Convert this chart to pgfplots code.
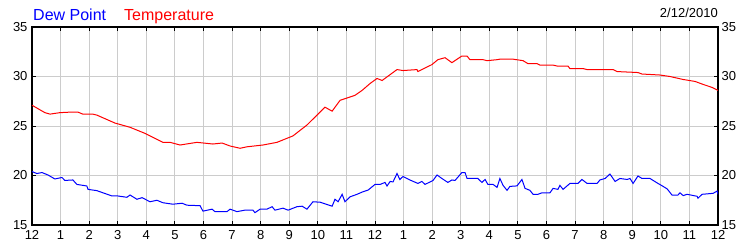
\documentclass[border=0pt]{standalone}
\usepackage{pgfplots}
\pgfplotsset{compat=1.18}
\usepackage{fontspec}
\setmainfont{Liberation Sans}
\definecolor{gridgray}{RGB}{204,204,204}
\definecolor{dpblue}{RGB}{0,0,255}
\definecolor{tred}{RGB}{255,0,0}
\pgfplotstableread{
h T
0 27.1
0.45 26.35
0.63 26.2
0.98 26.35
1.33 26.4
1.61 26.4
1.78 26.2
2.13 26.2
2.27 26.1
2.90 25.3
3.43 24.87
3.95 24.26
4.58 23.35
4.83 23.35
5.18 23.08
5.77 23.35
6.33 23.18
6.65 23.28
6.93 22.98
7.28 22.75
7.52 22.9
8.08 23.08
8.57 23.35
9.13 24.0
9.62 25.1
9.97 26.1
10.25 26.9
10.50 26.5
10.78 27.6
11.30 28.1
11.55 28.6
11.83 29.3
12.07 29.8
12.25 29.6
12.77 30.7
12.98 30.6
13.47 30.7
13.50 30.5
13.99 31.2
14.20 31.7
14.45 31.9
14.69 31.4
15.04 32.07
15.22 32.07
15.32 31.7
15.78 31.7
15.92 31.6
16.27 31.7
16.37 31.75
16.83 31.75
17.18 31.6
17.35 31.3
17.67 31.3
17.77 31.15
18.23 31.15
18.37 31.06
18.75 31.06
18.82 30.8
19.28 30.8
19.42 30.7
20.33 30.7
20.47 30.5
21.20 30.4
21.34 30.25
21.97 30.15
22.32 30.0
22.78 29.7
23.20 29.5
23.48 29.2
23.79 28.9
24.0 28.6
}\temptable
\pgfplotstableread{
h D
0 20.4
0.17 20.2
0.35 20.3
0.56 20.05
0.80 19.65
1.05 19.8
1.15 19.5
1.43 19.55
1.57 19.1
1.92 18.94
1.96 18.6
2.27 18.47
2.80 17.93
3.01 17.93
3.32 17.8
3.43 18.03
3.67 17.6
3.85 17.76
4.13 17.35
4.37 17.5
4.58 17.25
4.93 17.1
5.25 17.2
5.42 17.0
5.88 16.95
5.98 16.4
6.30 16.6
6.40 16.35
6.82 16.35
6.93 16.6
7.17 16.35
7.45 16.5
7.73 16.5
7.80 16.25
7.98 16.6
8.22 16.6
8.40 16.85
8.50 16.5
8.78 16.7
8.96 16.5
9.27 16.85
9.45 16.9
9.62 16.6
9.83 17.35
10.08 17.3
10.50 16.9
10.60 17.6
10.71 17.35
10.85 18.1
10.95 17.35
11.13 17.85
11.37 18.1
11.58 18.36
11.76 18.53
12.00 19.1
12.18 19.1
12.35 19.3
12.42 18.94
12.53 19.4
12.63 19.35
12.77 20.2
12.87 19.6
12.98 19.9
13.22 19.55
13.50 19.2
13.64 19.4
13.75 19.1
14.03 19.5
14.17 20.05
14.34 19.7
14.55 19.3
14.69 19.55
14.80 19.5
15.04 20.3
15.15 20.3
15.22 19.7
15.60 19.7
15.74 19.3
15.85 19.6
15.95 19.1
16.13 19.1
16.27 18.8
16.37 19.7
16.48 19.0
16.62 18.5
16.72 18.9
16.97 18.95
17.14 19.6
17.25 18.7
17.42 18.5
17.53 18.1
17.70 18.1
17.84 18.25
18.12 18.25
18.23 18.7
18.40 18.6
18.47 19.0
18.58 18.6
18.82 19.2
19.10 19.2
19.24 19.6
19.42 19.2
19.77 19.2
19.87 19.55
20.05 19.7
20.22 20.15
20.40 19.4
20.57 19.7
20.82 19.6
20.92 19.7
21.03 19.2
21.20 19.95
21.34 19.7
21.62 19.7
21.90 19.2
22.08 18.9
22.22 18.65
22.39 18.03
22.60 18.03
22.67 18.25
22.78 17.97
22.92 18.1
23.27 17.9
23.30 17.7
23.44 18.1
23.83 18.2
23.97 18.43
24.0 18.1
}\dewtable
\begin{document}
\begin{tikzpicture}
\useasboundingbox (-32pt,-25pt) rectangle (718pt,225pt);
\pgfplotsset{
  base/.style={
    width=686pt, height=198pt, scale only axis,
    xmin=0, xmax=24, ymin=15, ymax=35,
    ytick={15,20,25,30,35},
    /pgf/number format/assume math mode=true,
    tick label style={font=\fontsize{13}{13}\selectfont, black},
  }
}
\begin{axis}[base,
  axis line style={black, line width=1.5pt},
  xtick={0,...,24},
  xticklabels={12,1,2,3,4,5,6,7,8,9,10,11,12,1,2,3,4,5,6,7,8,9,10,11,12},
  xtick pos=both, ytick pos=both,
  tick align=inside,
  major tick length=4pt,
  tick style={black, line width=1pt},
  xmajorgrids, ymajorgrids,
  major grid style={gridgray, line width=1pt},
  xticklabel style={yshift=-2pt},
  yticklabel style={xshift=-1pt},
]
\addplot[tred, line width=1pt] table[x=h, y=T] {\temptable};
\addplot[dpblue, line width=1pt] table[x=h, y=D] {\dewtable};
\end{axis}
\begin{axis}[base,
  axis line style={draw=none},
  xtick=\empty,
  yticklabel pos=right,
  major tick length=0pt,
  yticklabel style={xshift=0pt},
]
\addplot[draw=none] coordinates {(0,15)};
\end{axis}
\node[anchor=base west, font=\fontsize{16}{16}\selectfont, text=dpblue, inner sep=0pt] at (1pt,205pt) {Dew Point};
\node[anchor=base west, font=\fontsize{16}{16}\selectfont, text=tred, inner sep=0pt] at (92pt,205pt) {Temperature};
\node[anchor=base east, font=\fontsize{13}{13}\selectfont, inner sep=0pt] at (686pt,208pt) {2/12/2010};
\end{tikzpicture}
\end{document}
